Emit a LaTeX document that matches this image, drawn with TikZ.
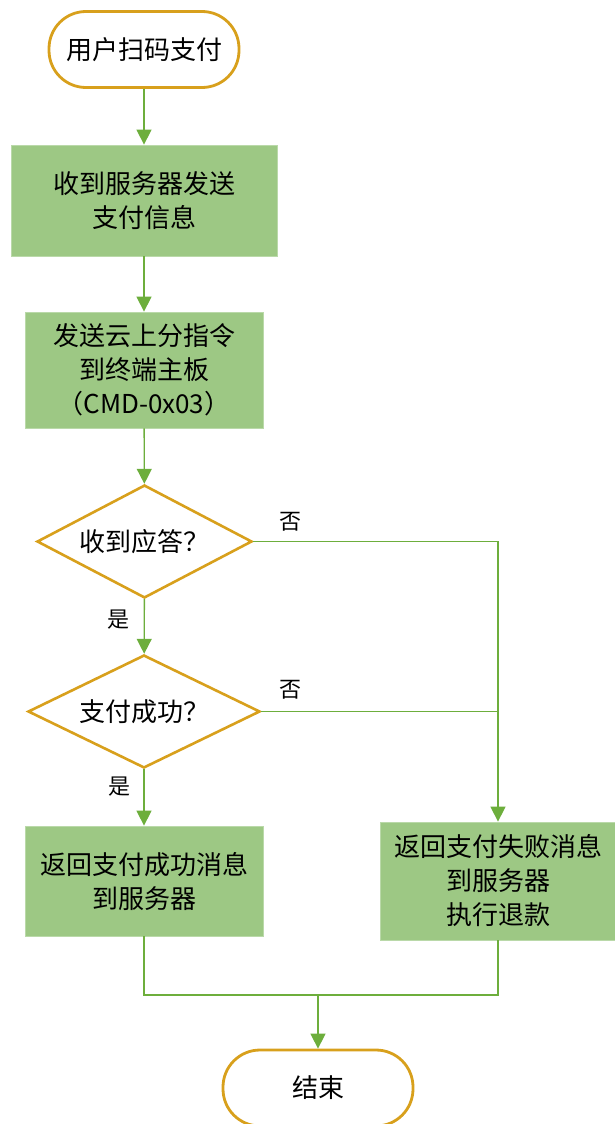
\documentclass[tikz,border=0pt]{standalone}
\usepackage{fontspec}
\setmainfont{Noto Sans CJK SC}
\usetikzlibrary{shapes.geometric,arrows.meta}
\definecolor{boxgreen}{HTML}{9DC884}
\definecolor{linegreen}{HTML}{6DAE3C}
\definecolor{gold}{RGB}{216,160,28}
\tikzset{
  x=1pt, y=-1pt,
  term/.style={draw=gold, line width=2.8pt, fill=white, rectangle, rounded corners=37pt,
    minimum width=190pt, minimum height=76pt, inner sep=0pt, font=\fontsize{26}{30}\selectfont},
  proc/.style={draw=boxgreen!70!white, line width=0.8pt, fill=boxgreen, rectangle, inner sep=0pt,
    align=center, font=\fontsize{26}{34}\selectfont},
  dec/.style={draw=gold, line width=2.6pt, fill=white, diamond, shape aspect=1.9, inner sep=0pt,
    minimum height=113pt, font=\fontsize{26}{30}\selectfont},
  conn/.style={draw=linegreen, line width=1.4pt},
  arr/.style={conn, -{Triangle[length=15pt,width=15pt]}},
  lbl/.style={font=\fontsize{22}{24}\selectfont, inner sep=0pt}
}
\begin{document}
\begin{tikzpicture}
\useasboundingbox (0,0) rectangle (614,1124);
\node[term] (start) at (144,49.5) {用户扫码支付};
\node[proc, minimum width=266pt, minimum height=111pt] (b1) at (144,200.5) {收到服务器发送\\支付信息};
\node[proc, minimum width=238pt, minimum height=116pt] (b2) at (144,370) {发送云上分指令\\到终端主板\\（CMD-0x03）};
\node[dec, minimum width=215pt] (d1) at (144.5,541.5) {收到应答？};
\node[dec, minimum width=232pt] (d2) at (144,711.5) {支付成功？};
\node[proc, minimum width=238pt, minimum height=110pt] (b3) at (144,881) {返回支付成功消息\\到服务器};
\node[proc, minimum width=236pt, minimum height=118pt] (b4) at (498,881) {返回支付失败消息\\到服务器\\执行退款};
\node[term] (end) at (318,1088) {结束};
\coordinate (j) at (318,995);

\draw[arr] (start) -- (b1);
\draw[arr] (b1) -- (b2);
\draw[arr] (b2) -- (d1);
\draw[arr] (d1) -- (d2);
\draw[arr] (d2) -- (b3);
\draw[arr] (d1.east) -| (b4.north);
\draw[conn] (d2.east) -- (d2.east -| b4.north);
\draw[conn] (b3.south) -- (b3.south |- j) -- (b4.south |- j) -- (b4.south);
\draw[arr] (j) -- (end);

\node[lbl] (n1) at (290,522) {否};
\node[lbl] (n2) at (290,690) {否};
\node[lbl] (y1) at (118,620) {是};
\node[lbl] (y2) at (119,787) {是};
\end{tikzpicture}
\end{document}
